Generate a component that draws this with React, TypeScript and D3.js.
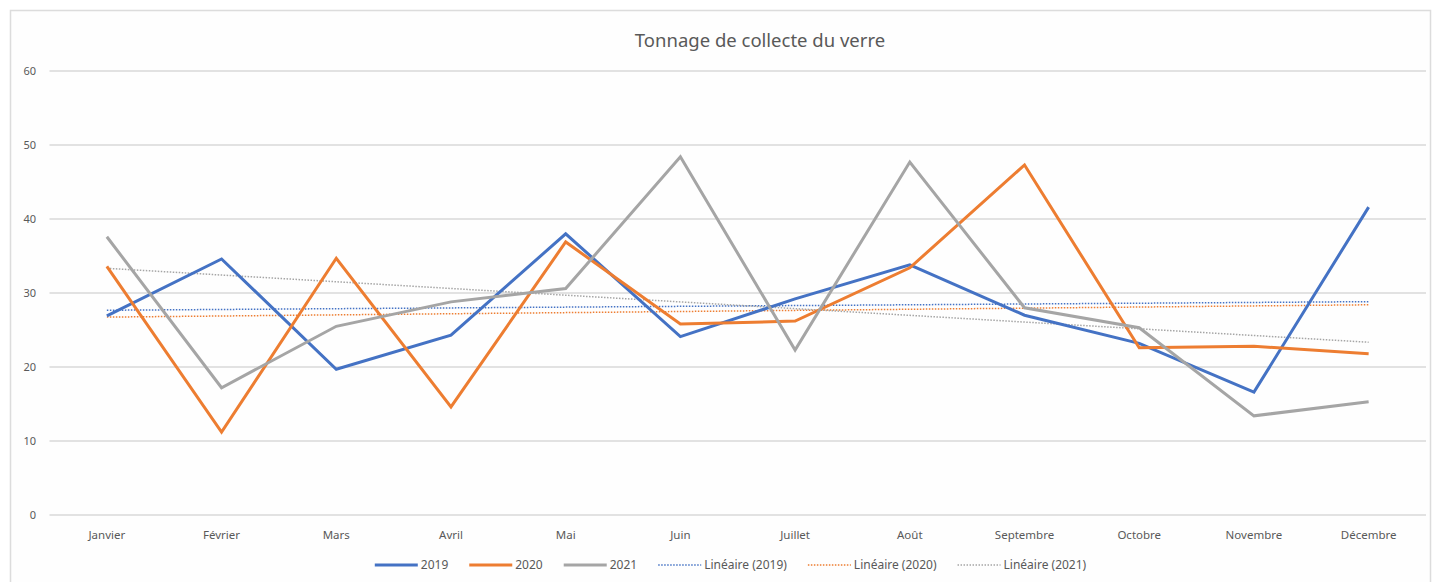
import React, { useEffect, useRef } from 'react';
import * as d3 from 'd3';

const months = ['Janvier', 'Février', 'Mars', 'Avril', 'Mai', 'Juin', 'Juillet', 'Août', 'Septembre', 'Octobre', 'Novembre', 'Décembre'];
const v2019 = [26.9, 34.6, 19.7, 24.3, 38.0, 24.1, 29.2, 33.8, 27.0, 23.2, 16.6, 41.6];
const v2020 = [33.6, 11.2, 34.7, 14.6, 36.9, 25.8, 26.2, 33.4, 47.3, 22.6, 22.8, 21.8];
const v2021 = [37.6, 17.2, 25.5, 28.8, 30.6, 48.4, 22.3, 47.7, 28.0, 25.3, 13.4, 15.3];
const yTicks = [0, 10, 20, 30, 40, 50, 60];
const seriesNames = ['2019', '2020', '2021'];
const colors = ['#4472C4', '#ED7D31', '#A5A5A5'];

const W = 1434;
const H = 582;

// least squares trend, like Excel's "Linéaire" trendline
function linearFit(values: number[]) {
  const xs = values.map((_, i) => i);
  const mx = d3.mean(xs) as number;
  const my = d3.mean(values) as number;
  let num = 0;
  let den = 0;
  xs.forEach((x, i) => {
    num += (x - mx) * (values[i] - my);
    den += (x - mx) * (x - mx);
  });
  const slope = num / den;
  const icpt = my - slope * mx;
  return xs.map((x) => icpt + slope * x);
}

export default function App() {
  const ref = useRef<SVGSVGElement>(null);

  useEffect(() => {
    const svg = d3.select(ref.current);
    svg.selectAll('*').remove();
    const font = '"Noto Sans", "Open Sans", sans-serif';
    const data = [v2019, v2020, v2021];

    svg.append('rect').attr('width', W).attr('height', H).attr('fill', '#ffffff');
    svg.append('rect')
      .attr('x', 10.5).attr('y', 10.5).attr('width', 1420).attr('height', 600)
      .attr('fill', '#fefefe').attr('stroke', '#dcdcdc').attr('stroke-width', 1.5);

    const x = d3.scaleBand().domain(months).range([49.5, 1426]);
    const y = d3.scaleLinear().domain([0, 60]).range([515, 71]);
    const cx = (i: number) => (x(months[i]) as number) + x.bandwidth() / 2;

    svg.append('text')
      .attr('x', 760).attr('y', 47)
      .attr('text-anchor', 'middle')
      .attr('font-family', font).attr('font-size', 18.5)
      .attr('fill', '#595959')
      .text('Tonnage de collecte du verre');

    const grid = svg.append('g');
    yTicks.forEach((t) => {
      grid.append('line')
        .attr('x1', 49.5).attr('x2', 1426)
        .attr('y1', y(t)).attr('y2', y(t))
        .attr('stroke', '#d9d9d9').attr('stroke-width', 1.5);
      grid.append('text')
        .attr('x', 36).attr('y', y(t) + 4)
        .attr('text-anchor', 'end')
        .attr('font-family', font).attr('font-size', 11)
        .attr('fill', '#595959')
        .text(t);
    });

    months.forEach((m, i) => {
      svg.append('text')
        .attr('x', cx(i)).attr('y', 539)
        .attr('text-anchor', 'middle')
        .attr('font-family', font).attr('font-size', 11.5)
        .attr('fill', '#595959')
        .text(m);
    });

    const line = d3.line<number>().x((_, i) => cx(i)).y((d) => y(d));

    // trend lines
    data.forEach((vals, k) => {
      svg.append('path')
        .datum(linearFit(vals))
        .attr('d', line)
        .attr('fill', 'none')
        .attr('stroke', colors[k])
        .attr('stroke-width', 1.5)
        .attr('stroke-dasharray', '1.5,1.5');
    });

    data.forEach((vals, k) => {
      svg.append('path')
        .datum(vals)
        .attr('d', line)
        .attr('fill', 'none')
        .attr('stroke', colors[k])
        .attr('stroke-width', 3)
        .attr('stroke-linejoin', 'miter');
    });

    // legend
    const items = [
      ...seriesNames.map((s, k) => ({ label: s, color: colors[k], dotted: false })),
      ...seriesNames.map((s, k) => ({ label: `Linéaire (${s})`, color: colors[k], dotted: true })),
    ];
    const lg = svg.append('g');
    let lx = 0;
    items.forEach((it) => {
      const g = lg.append('g').attr('transform', `translate(${lx},0)`);
      g.append('line')
        .attr('x1', 0).attr('x2', 43).attr('y1', 0).attr('y2', 0)
        .attr('stroke', it.color)
        .attr('stroke-width', it.dotted ? 1.5 : 3)
        .attr('stroke-dasharray', it.dotted ? '1.5,1.5' : null);
      const t = g.append('text')
        .attr('x', 46).attr('y', 4)
        .attr('font-family', font).attr('font-size', 12)
        .attr('fill', '#595959')
        .text(it.label);
      const tw = (t.node() as SVGTextElement).getComputedTextLength();
      lx += 46 + tw + 21;
    });
    const total = lx - 21;
    lg.attr('transform', `translate(${730.5 - total / 2},565)`);
  }, []);

  return (
    <svg ref={ref} width={W} height={H} style={{ position: 'absolute', left: 0, top: 0 }} />
  );
}
